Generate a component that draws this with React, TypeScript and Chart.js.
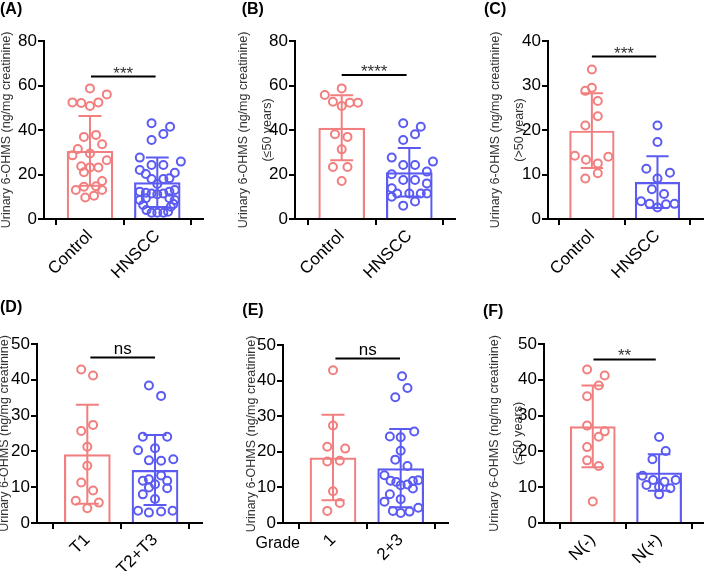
import React, { useEffect, useRef } from 'react';
import { Chart, registerables } from 'chart.js';

Chart.register(...registerables);

const FONT = "'Liberation Sans', Arial, Helvetica, sans-serif";
const PINK = '#F27F7F';
const BLUE = '#5B5BF2';

// ---------------- DATA ----------------
// (A) all subjects
const aCategories = ['Control', 'HNSCC'];
const aMeans = [30.6, 16.5];
const aSD = [15.7, 11.1];
const aControl = [58.7, 56.0, 52.4, 52.1, 50.8, 52.4, 36.9, 37.8, 33.6, 31.5, 29.4, 28.6, 26.4, 23.7, 23.2, 23.2, 21.0, 17.1, 14.5, 14.7, 13.0, 13.0, 10.5, 9.7];
const aControlJitter = [0, 0.25, -0.26, -0.13, 0, 0.125, -0.09, 0.09, 0.18, -0.18, 0, -0.26, 0.25, -0.13, 0, 0.125, -0.09, 0.18, -0.09, 0.09, -0.21, 0.18, 0.06, -0.07];
const aHnscc = [43.0, 41.5, 38.2, 35.5, 27.6, 25.8, 24.3, 24.3, 22.0, 20.8, 20.2, 18.0, 18.0, 18.3, 15.7, 12.3, 11.8, 11.5, 11.1, 11.5, 12.3, 13.0, 8.5, 9.3, 9.3, 8.5, 6.3, 6.7, 5.5, 4.0, 2.8, 2.8, 2.8, 3.3];
const aHnsccJitter = [-0.085, 0.19, 0.09, -0.085, -0.26, 0.35, -0.085, 0.09, -0.26, 0.26, -0.17, -0.085, 0.09, 0.18, 0, -0.26, -0.17, -0.085, 0, 0.09, 0.18, 0.26, -0.26, -0.17, 0.18, 0.26, -0.21, 0.24, 0.2, -0.16, -0.085, 0, 0.09, 0.16];
const aSig = '***';
const aSigValue = 64;

// (B) <=50 years
const bCategories = ['Control', 'HNSCC'];
const bMeans = [41.0, 21.0];
const bSD = [14.6, 10.9];
const bControl = [58.7, 55.7, 52.7, 50.8, 52.3, 52.3, 38.1, 36.9, 31.3, 23.4, 23.4, 17.1];
const bControlJitter = [0, -0.25, -0.13, 0, 0.12, 0.24, -0.1, 0.085, 0, -0.13, 0.085, 0];
const bHnscc = [43.0, 41.5, 38.1, 35.5, 27.6, 25.8, 24.3, 24.3, 20.1, 21.3, 17.5, 17.5, 16.0, 13.8, 11.5, 11.5, 11.5, 10.0, 7.9, 11.5, 6.0];
const bHnsccJitter = [-0.09, 0.17, 0.085, -0.09, -0.26, 0.35, -0.09, 0.085, -0.26, 0.26, -0.09, 0.085, 0.26, -0.26, -0.18, 0, 0.17, -0.26, 0.085, 0.26, -0.09];
const bSig = '****';
const bSigValue = 64.7;

// (C) >50 years
const cCategories = ['Control', 'HNSCC'];
const cMeans = [19.85, 8.3];
const cSD = [8.4, 5.8];
const cControl = [33.6, 29.5, 28.8, 26.5, 23.1, 21.0, 14.2, 14.0, 13.3, 12.5, 10.3, 9.1];
const cControlJitter = [0, 0, -0.1, 0.09, 0.09, -0.1, -0.26, 0.25, -0.09, 0.09, 0.09, -0.1];
const cHnscc = [21.0, 17.3, 11.3, 10.4, 9.1, 6.7, 5.6, 4.0, 3.4, 2.6, 3.3, 3.4];
const cHnsccJitter = [0, 0, -0.17, 0.19, 0, -0.085, 0.1, -0.25, -0.12, 0, 0.13, 0.26];
const cSig = '***';
const cSigValue = 36.5;

// (D) T stage
const dCategories = ['T1', 'T2+T3'];
const dMeans = [19.2, 14.8];
const dSD = [13.8, 9.8];
const dT1 = [42.9, 41.2, 27.4, 25.7, 21.3, 16.0, 11.3, 9.1, 6.2, 5.7, 4.1];
const dT1Jitter = [-0.09, 0.085, 0.085, -0.09, 0, 0, -0.09, 0.085, -0.17, 0.17, 0];
const dT23 = [38.4, 35.5, 24.1, 24.1, 20.3, 20.9, 17.5, 17.4, 17.8, 13.3, 11.8, 12.2, 11.8, 10.8, 9.9, 9.7, 8.0, 6.7, 3.4, 2.9, 3.2, 3.4];
const dT23Jitter = [-0.09, 0.09, -0.18, 0.18, -0.25, 0, -0.09, 0.09, 0.27, 0.09, -0.18, -0.09, 0.18, 0, -0.09, 0.18, -0.18, 0, -0.25, -0.09, 0.09, 0.26];
const dSig = 'ns';
const dSigValue = 46.2;

// (E) Grade
const eCategories = ['1', '2+3'];
const eMeans = [18.4, 15.4];
const eSD = [12.0, 11.0];
const eGrade1 = [42.9, 27.4, 21.4, 20.9, 17.3, 17.5, 8.9, 5.6, 3.4];
const eGrade1Jitter = [0, 0, -0.085, 0.18, -0.085, 0.1, 0, 0.1, -0.085];
const eGrade23 = [41.2, 37.9, 35.3, 25.7, 24.3, 24.1, 20.3, 17.8, 16.0, 13.4, 11.9, 11.5, 10.6, 10.8, 11.8, 12.0, 9.7, 8.1, 6.0, 6.7, 3.4, 2.8, 3.2, 4.3];
const eGrade23Jitter = [0.02, 0.1, -0.08, 0.2, -0.16, 0, 0, -0.08, 0.1, -0.24, -0.15, -0.065, 0, 0.1, 0.18, 0.26, 0.18, -0.16, -0.24, 0, -0.115, 0, 0.13, 0.26];
const eSig = 'ns';
const eSigValue = 46.2;

// (F) N stage, <=50 years
const fCategories = ['N(-)', 'N(+)'];
const fMeans = [27.0, 14.1];
const fSD = [11.4, 5.1];
const fNneg = [42.9, 41.2, 38.4, 35.4, 27.2, 25.6, 24.1, 21.2, 17.5, 15.9, 6.0];
const fNnegJitter = [-0.085, 0.18, 0.09, -0.085, -0.085, 0.18, 0.09, -0.085, -0.085, 0.09, 0];
const fNpos = [24.0, 20.1, 17.8, 13.2, 12.0, 11.5, 12.0, 10.6, 10.1, 9.7, 8.0];
const fNposJitter = [0, 0.1, -0.1, -0.25, -0.09, 0.08, 0.25, -0.19, 0, 0.17, 0];
const fSig = '**';
const fSigValue = 45.7;

const TITLE_ALL = 'Urinary 6-OHMS (ng/mg creatinine)';

// ---------------- LAYOUT ----------------
type Panel = {
  id: string; label: string; left: number; top: number; w: number; h: number;
  area: { l: number; r: number; t: number; b: number };
  xMin: number; xMax: number; titlePad: number; labelX: number; labelY: number;
  cats: string[]; means: number[]; sds: number[];
  g0: number[]; g0x: number[]; g1: number[]; g1x: number[];
  yMax: number; yStep: number; yTitle: string | string[];
  sig: string; sigValue: number; sigFrom: number; sigTo: number;
  extra?: string;
};

const PANELS: Panel[] = [
  { id: 'A', label: '(A)', left: 0, top: 0, w: 235, h: 285, area: { l: 44, r: 203, t: 41, b: 219 }, xMin: -0.683, xMax: 1.679, titlePad: -5.2, labelX: 0, labelY: 14,
    cats: aCategories, means: aMeans, sds: aSD, g0: aControl, g0x: aControlJitter, g1: aHnscc, g1x: aHnsccJitter,
    yMax: 80, yStep: 20, yTitle: TITLE_ALL, sig: aSig, sigValue: aSigValue, sigFrom: 0.015, sigTo: 0.975 },
  { id: 'B', label: '(B)', left: 235, top: 0, w: 235, h: 285, area: { l: 60, r: 220, t: 41, b: 219 }, xMin: -0.691, xMax: 1.676, titlePad: -2.9, labelX: 6.7, labelY: 14,
    cats: bCategories, means: bMeans, sds: bSD, g0: bControl, g0x: bControlJitter, g1: bHnscc, g1x: bHnsccJitter,
    yMax: 80, yStep: 20, yTitle: [TITLE_ALL, '(≤50 years)'], sig: bSig, sigValue: bSigValue, sigFrom: 0, sigTo: 0.96 },
  { id: 'C', label: '(C)', left: 470, top: 0, w: 239, h: 285, area: { l: 78, r: 237, t: 41, b: 219 }, xMin: -0.669, xMax: 1.694, titlePad: 14.1, labelX: 14, labelY: 14,
    cats: cCategories, means: cMeans, sds: cSD, g0: cControl, g0x: cControlJitter, g1: cHnscc, g1x: cHnsccJitter,
    yMax: 40, yStep: 10, yTitle: [TITLE_ALL, '(>50 years)'], sig: cSig, sigValue: cSigValue, sigFrom: 0, sigTo: 0.98 },
  { id: 'D', label: '(D)', left: 0, top: 285, w: 235, h: 286, area: { l: 37, r: 202, t: 59, b: 238 }, xMin: -0.743, xMax: 1.694, titlePad: -7.6, labelX: 0, labelY: 27,
    cats: dCategories, means: dMeans, sds: dSD, g0: dT1, g0x: dT1Jitter, g1: dT23, g1x: dT23Jitter,
    yMax: 50, yStep: 10, yTitle: TITLE_ALL, sig: dSig, sigValue: dSigValue, sigFrom: 0.045, sigTo: 1.0 },
  { id: 'E', label: '(E)', left: 235, top: 285, w: 235, h: 286, area: { l: 48, r: 213, t: 60, b: 238 }, xMin: -0.739, xMax: 1.699, titlePad: 4.8, labelX: 7.3, labelY: 30,
    cats: eCategories, means: eMeans, sds: eSD, g0: eGrade1, g0x: eGrade1Jitter, g1: eGrade23, g1x: eGrade23Jitter,
    yMax: 50, yStep: 10, yTitle: TITLE_ALL, sig: eSig, sigValue: eSigValue, sigFrom: 0.035, sigTo: 0.99, extra: 'Grade' },
  { id: 'F', label: '(F)', left: 470, top: 285, w: 239, h: 286, area: { l: 74, r: 238, t: 59, b: 238 }, xMin: -0.735, xMax: 1.662, titlePad: 13.1, labelX: 13, labelY: 31,
    cats: fCategories, means: fMeans, sds: fSD, g0: fNneg, g0x: fNnegJitter, g1: fNpos, g1x: fNposJitter,
    yMax: 50, yStep: 10, yTitle: [TITLE_ALL, '(≤50 years)'], sig: fSig, sigValue: fSigValue, sigFrom: 0.01, sigTo: 0.95 },
];

const COLORS = [PINK, BLUE];
const CAP = 0.17;

function decorPlugin(p: Panel) {
  return {
    id: 'decor' + p.id,
    afterDatasetsDraw(chart: any) {
      const ctx = chart.ctx as CanvasRenderingContext2D;
      const xs = chart.scales.x;
      const ys = chart.scales.y;
      ctx.save();
      ctx.lineWidth = 2;
      const half = (xs.getPixelForValue(1) - xs.getPixelForValue(0)) * CAP;
      p.means.forEach((m, i) => {
        const cx = xs.getPixelForValue(i);
        const yt = ys.getPixelForValue(m + p.sds[i]);
        const yb = ys.getPixelForValue(Math.max(0, m - p.sds[i]));
        ctx.strokeStyle = COLORS[i];
        ctx.beginPath();
        ctx.moveTo(cx, yt); ctx.lineTo(cx, yb);
        ctx.moveTo(cx - half, yt); ctx.lineTo(cx + half, yt);
        ctx.moveTo(cx - half, yb); ctx.lineTo(cx + half, yb);
        ctx.stroke();
      });
      // significance bracket
      const x0 = xs.getPixelForValue(p.sigFrom);
      const x1 = xs.getPixelForValue(p.sigTo);
      const yl = ys.getPixelForValue(p.sigValue);
      ctx.strokeStyle = '#000';
      ctx.beginPath(); ctx.moveTo(x0, yl); ctx.lineTo(x1, yl); ctx.stroke();
      ctx.fillStyle = p.sig === 'ns' ? '#000' : '#333';
      ctx.font = `17px ${FONT}`;
      ctx.textAlign = 'center';
      ctx.textBaseline = 'alphabetic';
      ctx.fillText(p.sig, (x0 + x1) / 2, p.sig === 'ns' ? yl - 4 : yl + 2);
      ctx.restore();
    },
    afterDraw(chart: any) {
      const ctx = chart.ctx as CanvasRenderingContext2D;
      ctx.save();
      ctx.fillStyle = '#000';
      ctx.font = `bold 16px ${FONT}`;
      ctx.textAlign = 'left';
      ctx.textBaseline = 'alphabetic';
      ctx.fillText(p.label, p.labelX, p.labelY);
      if (p.extra) {
        ctx.font = `16px ${FONT}`;
        ctx.textAlign = 'right';
        ctx.fillText(p.extra, 65, 263);
      }
      ctx.restore();
    },
  };
}

function buildConfig(p: Panel): any {
  const pts0 = p.g0.map((v, i) => ({ x: p.g0x[i], y: v }));
  const pts1 = p.g1.map((v, i) => ({ x: 1 + p.g1x[i], y: v }));
  const axisGrid = { display: true, drawOnChartArea: false, drawTicks: true, tickLength: 6, color: '#000', lineWidth: 2 };
  const axisBorder = { display: true, color: '#000', width: 2 };
  return {
    type: 'bar',
    data: {
      datasets: [
        {
          type: 'bar',
          data: p.means.map((m, i) => ({ x: i, y: m })),
          backgroundColor: 'rgba(255,255,255,0)',
          borderColor: COLORS,
          borderWidth: 2.2,
          categoryPercentage: 1,
          barPercentage: 0.69,
          order: 3,
        },
        {
          type: 'scatter', data: pts0, pointRadius: 4, pointBorderWidth: 2,
          pointBorderColor: PINK, pointBackgroundColor: 'rgba(255,255,255,0)', clip: false, order: 1,
        },
        {
          type: 'scatter', data: pts1, pointRadius: 4, pointBorderWidth: 2,
          pointBorderColor: BLUE, pointBackgroundColor: 'rgba(255,255,255,0)', clip: false, order: 1,
        },
      ],
    },
    options: {
      responsive: false,
      animation: false,
      devicePixelRatio: 1,
      events: [],
      layout: { padding: { left: 0, top: p.area.t, right: p.w - p.area.r, bottom: 0 } },
      plugins: { legend: { display: false }, tooltip: { enabled: false } },
      scales: {
        x: {
          type: 'linear',
          min: p.xMin,
          max: p.xMax,
          offset: false,
          afterBuildTicks: (s: any) => { s.ticks = [{ value: 0 }, { value: 1 }]; },
          afterFit: (s: any) => { s.height = p.h - p.area.b; },
          ticks: {
            autoSkip: false,
            minRotation: 45,
            maxRotation: 45,
            padding: 1,
            color: '#000',
            font: { family: FONT, size: 17 },
            callback: (v: number) => p.cats[Math.round(v)],
          },
          grid: axisGrid,
          border: axisBorder,
        },
        y: {
          type: 'linear',
          min: 0,
          max: p.yMax,
          afterFit: (s: any) => { s.width = p.area.l; },
          ticks: { stepSize: p.yStep, padding: 1, color: '#000', font: { family: FONT, size: 17 } },
          grid: axisGrid,
          border: axisBorder,
          title: {
            display: true,
            text: p.yTitle,
            color: '#333',
            font: { family: FONT, size: 12.5, lineHeight: 1.9 },
            padding: { top: p.titlePad, bottom: 0 },
          },
        },
      },
    },
    plugins: [decorPlugin(p)],
  };
}

function PanelChart({ p }: { p: Panel }) {
  const ref = useRef<HTMLCanvasElement>(null);
  useEffect(() => {
    const chart = new Chart(ref.current as HTMLCanvasElement, buildConfig(p));
    return () => chart.destroy();
  }, [p]);
  return (
    <canvas
      ref={ref}
      width={p.w}
      height={p.h}
      style={{ position: 'absolute', left: p.left, top: p.top, width: p.w, height: p.h }}
    />
  );
}

export default function App() {
  useEffect(() => {
    document.body.style.margin = '0';
  }, []);
  return (
    <div style={{ position: 'relative', width: 709, height: 571, background: '#fff', overflow: 'hidden' }}>
      {PANELS.map((p) => (
        <PanelChart key={p.id} p={p} />
      ))}
    </div>
  );
}
